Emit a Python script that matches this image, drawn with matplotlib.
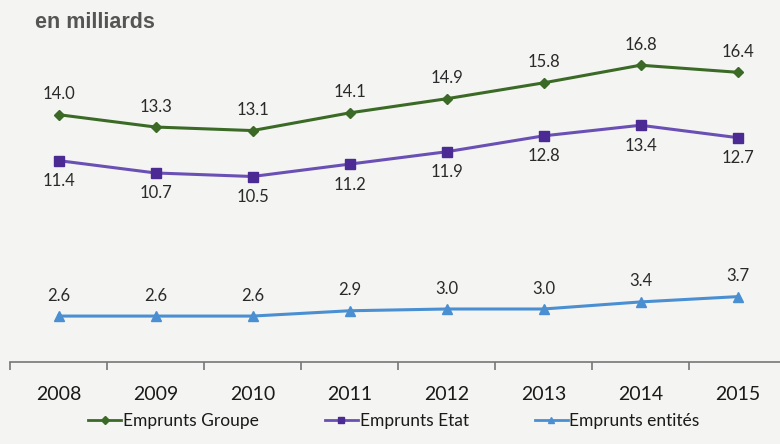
import matplotlib.pyplot as plt
from matplotlib.lines import Line2D

annees = ['2008', '2009', '2010', '2011', '2012', '2013', '2014', '2015']
groupe = [14.0, 13.3, 13.1, 14.1, 14.9, 15.8, 16.8, 16.4]
etat = [11.4, 10.7, 10.5, 11.2, 11.9, 12.8, 13.4, 12.7]
entites = [2.6, 2.6, 2.6, 2.9, 3.0, 3.0, 3.4, 3.7]

bg = '#f4f4f2'
c_groupe = '#3b6a26'
c_etat = '#6a50b4'
c_etat_m = '#4b2a94'
c_entites = '#4a8fd2'
txt = '#2a2a2a'

plt.rcParams['font.family'] = ['Lato', 'DejaVu Sans']

fig = plt.figure(figsize=(7.8, 4.44), dpi=100, facecolor=bg)
ax = fig.add_axes([10 / 780, 82 / 444, 776 / 780, 318 / 444])
ax.set_facecolor(bg)

x = range(len(annees))
ax.plot(x, groupe, color=c_groupe, lw=2.2, marker='D', ms=5, mfc=c_groupe, mec=c_groupe)
ax.plot(x, etat, color=c_etat, lw=2.2, marker='s', ms=7, mfc=c_etat_m, mec=c_etat_m)
ax.plot(x, entites, color=c_entites, lw=2.2, marker='^', ms=7, mfc=c_entites, mec=c_entites)

for i in x:
    ax.annotate('%.1f' % groupe[i], (i, groupe[i]), xytext=(0, 9), textcoords='offset points',
                ha='center', va='bottom', fontsize=12, color=txt)
    ax.annotate('%.1f' % etat[i], (i, etat[i]), xytext=(0, -9), textcoords='offset points',
                ha='center', va='top', fontsize=12, color=txt)
    ax.annotate('%.1f' % entites[i], (i, entites[i]), xytext=(0, 9), textcoords='offset points',
                ha='center', va='bottom', fontsize=12, color=txt)

ax.set_xlim(-0.5, 7.5)
ax.set_ylim(0, 18)
ax.set_yticks([])
for s in ['left', 'right', 'top']:
    ax.spines[s].set_visible(False)
ax.spines['bottom'].set_color('#777777')
ax.spines['bottom'].set_linewidth(1.2)
ax.set_xticks([i - 0.5 for i in range(len(annees) + 1)], minor=False)
ax.set_xticklabels([''] * (len(annees) + 1))
ax.tick_params(axis='x', which='major', length=6, color='#777777', width=1.2)
ax.set_xticks(list(x), minor=True)
ax.set_xticklabels(annees, minor=True)
ax.tick_params(axis='x', which='minor', length=0, labelsize=14, labelcolor='#1a1a1a', pad=17)

fig.text(35 / 780, 1 - 22 / 444, 'en milliards', fontsize=15.5, fontweight='bold',
         color='#555555', va='center', family=['Liberation Sans', 'DejaVu Sans'])

handles = [
    Line2D([], [], color=c_groupe, lw=2, marker='D', ms=4, mfc=c_groupe, mec=c_groupe),
    Line2D([], [], color=c_etat, lw=2, marker='s', ms=5, mfc=c_etat_m, mec=c_etat_m),
    Line2D([], [], color=c_entites, lw=2, marker='^', ms=5, mfc=c_entites, mec=c_entites),
]
fig.legend(handles, ['Emprunts Groupe', 'Emprunts Etat', 'Emprunts entités'],
           loc='center', bbox_to_anchor=(0.505, 1 - 421 / 444), ncol=3, frameon=False,
           fontsize=12.5, handlelength=1.9, handletextpad=0.1, columnspacing=3.8,
           labelcolor='#1a1a1a')

fig.savefig('out.png', dpi=100, facecolor=bg)
